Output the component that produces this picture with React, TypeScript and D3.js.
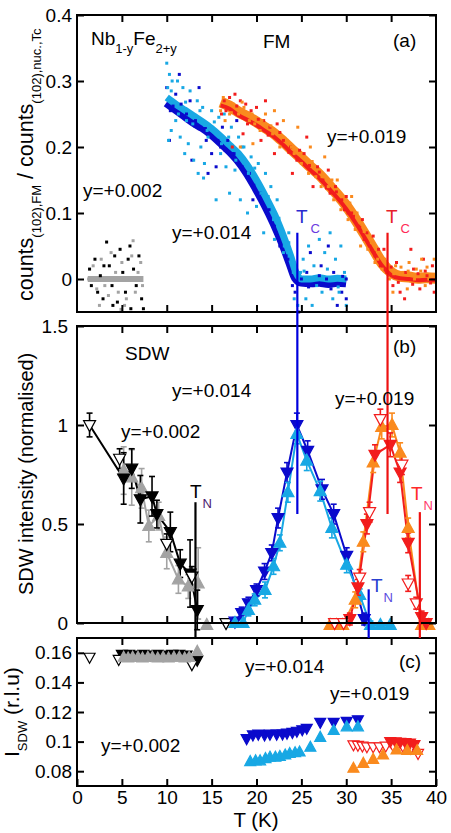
import { useEffect, useRef } from "react"
import * as d3 from "d3"

type Pt = [number, number]
type EPt = [number, number, number]

const FONT = "'Liberation Sans', Arial, Helvetica, sans-serif"

const C_DARK = "#0a0acc"
const C_LIGHT = "#18a8e4"
const C_RED = "#f21d1d"
const C_ORANGE = "#fa8a1e"
const C_GRAY = "#a3a3a3"

// ---- (a) FM: counts(102),FM / counts(102),nuc.,Tc ----
const band002: Pt[] = [[1.2, 0.0], [3, 0.0], [5, 0.0], [7.4, 0.0]]
const scatterBlack002: Pt[] = [
  [1.4, 0.015], [1.6, -0.01], [2.0, 0.03], [2.3, -0.02], [2.6, 0.005], [2.9, -0.03], [3.3, 0.056], [3.6, 0.02],
  [3.9, -0.01], [4.2, 0.035], [4.5, -0.035], [4.8, 0.045], [5.1, 0.01], [5.4, -0.02], [5.7, 0.03], [6.0, -0.045],
  [6.3, 0.015], [6.6, -0.01], [6.9, 0.035], [7.2, -0.03], [7.4, -0.045], [4.0, -0.04], [3.0, 0.02], [5.9, 0.05],
]
const scatterGray002: Pt[] = [
  [1.3, 0.0], [1.8, 0.02], [2.2, -0.015], [2.7, 0.03], [3.1, -0.01], [3.5, -0.025], [3.8, 0.04], [4.3, 0.01],
  [4.6, -0.02], [5.0, 0.025], [5.3, -0.04], [5.6, 0.0], [6.1, 0.035], [6.25, 0.058], [6.5, -0.02], [6.8, 0.01],
  [7.1, 0.025], [7.3, -0.01], [2.5, -0.04], [4.9, -0.046], [5.5, -0.03],
]
const bandLight014: Pt[] = [
  [10, 0.275], [11, 0.265], [12, 0.256], [13, 0.247], [14, 0.238], [15, 0.228], [16, 0.216], [17, 0.203],
  [18, 0.19], [19, 0.172], [20, 0.15], [21, 0.125], [22, 0.098], [23, 0.065], [23.8, 0.035], [24.4, 0.01],
  [25, 0.0], [26, 0.0], [27, 0.002], [28, 0.0], [29, 0.001], [30, 0.0],
]
const bandDark014: Pt[] = [
  [10, 0.268], [11, 0.258], [12, 0.248], [13, 0.238], [14, 0.23], [15, 0.22], [16, 0.208], [17, 0.195],
  [18, 0.18], [19, 0.161], [20, 0.138], [21, 0.113], [22, 0.085], [23, 0.053], [23.8, 0.024], [24.4, 0.002],
  [25, -0.004], [26, -0.005], [27, -0.004], [28, -0.006], [29, -0.004], [30, -0.005],
]
const scatterLight014: Pt[] = [
  [10.0, 0.327], [10.3, 0.31], [10.1, 0.29], [10.6, 0.30], [11.2, 0.30], [10.2, 0.21], [10.5, 0.225], [11.0, 0.24],
  [11.5, 0.215], [12.0, 0.19], [12.4, 0.205], [13.0, 0.18], [13.5, 0.16], [14.2, 0.175], [14.1, 0.153], [15.5, 0.12],
  [13.8, 0.2], [11.8, 0.29], [12.6, 0.285], [13.4, 0.27], [14.0, 0.26], [15.0, 0.255], [15.8, 0.245], [16.4, 0.25],
  [17.2, 0.23], [18.0, 0.215], [18.6, 0.2], [19.4, 0.185], [20.2, 0.175], [21.0, 0.16], [21.6, 0.14], [22.3, 0.12],
  [17.0, 0.13], [18.2, 0.12], [19.0, 0.1], [20.0, 0.11], [20.8, 0.07], [22.0, 0.06], [23.0, 0.04], [23.6, 0.07],
  [16.6, 0.17], [17.6, 0.165], [24.2, -0.03], [24.6, -0.04], [25.2, 0.03], [25.8, 0.05], [26.4, 0.02], [27.0, 0.06],
  [27.6, 0.04], [28.2, 0.07], [28.8, 0.03], [29.4, 0.05], [29.8, 0.01], [25.5, -0.03], [26.2, -0.04], [27.3, -0.02],
  [28.5, -0.03], [29.2, -0.02], [30.0, -0.04], [24.9, 0.01], [14.6, 0.215], [16.0, 0.19], [12.2, 0.24],
  [10.5, 0.285], [11.3, 0.25], [12.1, 0.268], [12.9, 0.235], [13.7, 0.255], [14.5, 0.225], [15.3, 0.238],
  [16.1, 0.205], [16.9, 0.215], [17.7, 0.18], [18.4, 0.2], [19.1, 0.16], [19.8, 0.168], [20.5, 0.13],
  [21.3, 0.125], [21.9, 0.09], [22.5, 0.092], [23.1, 0.05], [23.6, 0.055], [24.1, 0.01], [25.3, 0.012],
  [26.7, -0.01], [27.9, 0.015], [29.1, -0.012],
]
const scatterDark014: Pt[] = [
  [10.0, 0.29], [10.4, 0.255], [11.0, 0.28], [11.6, 0.265], [12.2, 0.25], [12.6, 0.27], [13.2, 0.24], [13.8, 0.23],
  [14.4, 0.21], [15.0, 0.19], [15.5, 0.17], [12.8, 0.18], [14.6, 0.16], [16.0, 0.2], [16.8, 0.21], [17.5, 0.19],
  [18.4, 0.17], [19.2, 0.16], [20.4, 0.13], [21.2, 0.1], [22.0, 0.08], [22.6, 0.05], [23.3, 0.035], [19.6, 0.12],
  [16.2, 0.23], [17.8, 0.24], [13.6, 0.29], [11.4, 0.31], [24.3, -0.02], [24.7, -0.05], [25.0, 0.0], [25.6, 0.01],
  [26.4, -0.01], [27.2, 0.02], [27.8, 0.0], [28.6, 0.01], [29.5, -0.02], [30.0, 0.0], [26.0, 0.04], [28.0, 0.05],
  [29.0, -0.04], [30.0, -0.03], [10.3, 0.21],
  [10.7, 0.262], [11.9, 0.245], [13.1, 0.232], [14.3, 0.228], [15.7, 0.21], [16.5, 0.195], [17.3, 0.19],
  [18.1, 0.172], [18.9, 0.155], [19.7, 0.142], [20.6, 0.115], [21.4, 0.105], [22.2, 0.07], [23.5, 0.03],
  [24.0, -0.01], [25.8, -0.012], [27.0, 0.005], [28.3, -0.015], [29.6, 0.004],
]
const bandOrange019: Pt[] = [
  [16, 0.268], [17, 0.262], [18, 0.253], [19, 0.246], [20, 0.238], [21, 0.229], [22, 0.22], [23, 0.208],
  [24, 0.195], [25, 0.183], [26, 0.17], [27, 0.158], [28, 0.143], [29, 0.128], [30, 0.111], [31, 0.091],
  [32, 0.069], [33, 0.046], [34, 0.024], [35, 0.01], [36, 0.004], [37, 0.003], [38, 0.001], [39, 0.002], [40, 0.001],
]
const bandRed019: Pt[] = [
  [16, 0.263], [17, 0.258], [18, 0.248], [19, 0.241], [20, 0.233], [21, 0.224], [22, 0.215], [23, 0.203],
  [24, 0.19], [25, 0.178], [26, 0.165], [27, 0.153], [28, 0.138], [29, 0.123], [30, 0.106], [31, 0.086],
  [32, 0.064], [33, 0.041], [34, 0.02], [35, 0.006], [36, 0.001], [37, 0.0], [38, -0.002], [39, -0.001], [40, -0.002],
]
const scatterRed019: Pt[] = [
  [16.1, 0.25], [16.4, 0.27], [17.0, 0.275], [17.6, 0.28], [18.2, 0.27], [18.8, 0.265], [19.4, 0.255], [20.0, 0.26],
  [20.8, 0.24], [21.5, 0.23], [22.3, 0.235], [23.0, 0.21], [23.8, 0.2], [24.5, 0.18], [25.3, 0.19], [26.0, 0.165],
  [26.8, 0.17], [27.4, 0.15], [28.2, 0.13], [28.8, 0.14], [29.5, 0.12], [30.2, 0.1], [30.8, 0.095], [31.4, 0.08],
  [32.0, 0.06], [32.6, 0.05], [33.2, 0.035], [33.8, 0.02], [34.5, 0.01], [35.2, -0.01], [36.0, -0.02], [36.8, 0.0],
  [37.5, 0.015], [38.2, -0.015], [39.0, 0.005], [39.6, 0.02], [17.3, 0.2], [18.5, 0.22], [20.5, 0.21], [22.0, 0.19],
  [24.0, 0.16], [26.3, 0.14], [21.0, 0.27], [25.6, 0.215], [28.0, 0.165], [30.0, 0.125], [31.8, 0.09], [33.0, 0.065],
  [34.2, 0.045], [35.6, 0.025], [36.5, -0.03], [38.6, 0.03], [39.8, -0.02], [37.2, 0.045],
  [16.6, 0.255], [17.8, 0.262], [19.0, 0.235], [20.2, 0.242], [21.3, 0.218], [22.6, 0.222], [23.6, 0.192],
  [24.8, 0.195], [25.9, 0.172], [27.0, 0.162], [27.8, 0.138], [28.9, 0.132], [29.8, 0.105], [30.6, 0.1],
  [31.5, 0.078], [32.3, 0.07], [33.1, 0.04], [33.6, 0.045], [34.4, 0.015], [35.0, 0.018], [35.8, -0.005],
  [36.6, 0.01], [37.4, -0.008], [38.0, 0.008], [38.8, 0.012], [39.4, -0.006],
]
const scatterOrange019: Pt[] = [
  [16.0, 0.255], [16.5, 0.24], [17.0, 0.25], [17.4, 0.265], [18.0, 0.25], [18.6, 0.26], [19.2, 0.24], [19.8, 0.235],
  [20.4, 0.225], [21.0, 0.25], [21.8, 0.22], [22.6, 0.2], [23.4, 0.21], [24.2, 0.19], [25.0, 0.175], [25.8, 0.16],
  [26.6, 0.155], [27.2, 0.14], [28.0, 0.14], [28.6, 0.12], [29.4, 0.105], [30.2, 0.09], [31.0, 0.075], [31.6, 0.05],
  [32.4, 0.045], [33.2, 0.025], [34.0, 0.015], [34.8, 0.0], [35.5, 0.02], [36.3, 0.01], [37.0, 0.025], [37.8, 0.015],
  [38.4, 0.03], [39.2, 0.0], [39.8, 0.03], [18.2, 0.2], [19.6, 0.205], [22.0, 0.255], [23.0, 0.24], [24.6, 0.23],
  [26.0, 0.2], [27.6, 0.185], [29.0, 0.15], [30.6, 0.125], [35.2, -0.02], [36.8, -0.015], [38.8, -0.01],
  [16.3, 0.275], [17.2, 0.252], [18.4, 0.268], [19.5, 0.25], [20.6, 0.24], [21.6, 0.232], [22.9, 0.215],
  [23.9, 0.2], [25.1, 0.185], [26.2, 0.178], [27.3, 0.155], [28.4, 0.15], [29.5, 0.125], [30.4, 0.115],
  [31.2, 0.1], [32.0, 0.072], [32.8, 0.055], [33.5, 0.03], [34.3, 0.03], [35.3, 0.008], [36.1, 0.018],
  [36.9, 0.012], [37.6, 0.0], [38.3, 0.012], [39.0, 0.018], [39.6, 0.005],
]

// ---- (b) SDW intensity (normalised): [T, I, error] ----
const sdwOpen002: EPt[] = [[1.4, 1.0, 0.06], [4.75, 0.83, 0.05], [10.0, 0.4, 0.05], [12.8, 0.235, 0.05], [16.6, 0.0, 0]]
const sdwBlack002: EPt[] = [
  [5.2, 0.73, 0.13], [6.1, 0.78, 0.1], [7.06, 0.625, 0.12], [8.36, 0.64, 0.1], [8.9, 0.55, 0.07],
  [10.4, 0.46, 0.1], [11.5, 0.3, 0.07], [12.6, 0.25, 0.17], [13.4, 0.066, 0.1],
]
const sdwGray002: EPt[] = [
  [5.2, 0.77, 0.12], [6.1, 0.735, 0.14], [7.2, 0.68, 0.1], [8.0, 0.49, 0.08], [9.1, 0.54, 0.07],
  [10.0, 0.354, 0.08], [11.3, 0.22, 0.07], [12.4, 0.184, 0.06], [13.5, 0.2, 0.18], [14.45, -0.01, 0],
]
const sdwDark014: EPt[] = [
  [17.6, 0.007, 0.02], [18.35, 0.05, 0.03], [19.1, 0.1, 0.03], [20.0, 0.167, 0.03], [20.9, 0.26, 0.04],
  [21.7, 0.354, 0.04], [22.4, 0.53, 0.05], [23.4, 0.76, 0.05], [24.5, 1.0, 0.06], [25.7, 0.87, 0.05],
  [27.3, 0.675, 0.05], [28.6, 0.55, 0.05], [30.05, 0.34, 0.04], [32.0, 0.02, 0.03],
]
const sdwLight014: EPt[] = [
  [17.6, 0.0, 0.02], [18.5, 0.0, 0.02], [19.1, 0.066, 0.03], [19.8, 0.117, 0.03], [20.95, 0.167, 0.04],
  [21.9, 0.286, 0.04], [22.6, 0.405, 0.04], [23.5, 0.66, 0.05], [24.5, 0.955, 0.05], [25.6, 0.82, 0.05],
  [27.1, 0.666, 0.05], [28.4, 0.48, 0.05], [30.05, 0.294, 0.04], [31.5, 0.142, 0.03], [32.7, -0.01, 0.02],
  [33.8, -0.01, 0], [34.9, -0.01, 0],
]
const sdwOrange019: EPt[] = [
  [28.2, -0.01, 0], [28.9, -0.01, 0], [29.6, -0.01, 0], [31.0, 0.117, 0.04], [31.9, 0.41, 0.05],
  [33.0, 0.81, 0.05], [33.95, 0.99, 0.06], [35.1, 1.0, 0.06], [36.0, 0.86, 0.05], [36.9, 0.48, 0.05],
  [38.4, -0.01, 0.02], [39.2, -0.01, 0],
]
const sdwRed019: EPt[] = [
  [30.4, 0.02, 0.03], [31.3, 0.18, 0.04], [32.3, 0.5, 0.05], [33.2, 0.85, 0.05], [34.9, 0.9, 0.06],
  [36.0, 0.76, 0.05], [36.9, 0.405, 0.05], [38.4, 0.03, 0.03], [38.9, 0.0, 0],
]
const sdwOpen019: EPt[] = [
  [28.7, 0.0, 0], [29.7, 0.0, 0], [31.5, 0.23, 0.04], [32.6, 0.56, 0.05], [33.8, 1.03, 0.05],
  [36.2, 0.8, 0.05], [36.9, 0.2, 0.04], [37.8, 0.1, 0.03],
]

// ---- (c) incommensurability l_SDW (r.l.u) ----
const lOpen002: Pt[] = [[1.4, 0.157], [4.65, 0.1555], [12.8, 0.152]]
const lBlack002: Pt[] = [
  [5.0, 0.159], [5.8, 0.159], [6.6, 0.1585], [7.4, 0.159], [8.2, 0.1585], [9.0, 0.159], [9.8, 0.1585],
  [10.6, 0.159], [11.4, 0.159], [12.2, 0.1585], [13.4, 0.155],
]
const lGray002: Pt[] = [
  [5.2, 0.157], [5.7, 0.1565], [6.2, 0.157], [6.8, 0.157], [7.3, 0.1565], [7.9, 0.157], [8.4, 0.157],
  [9.0, 0.1565], [9.6, 0.157], [10.2, 0.1565], [10.8, 0.157], [11.4, 0.157], [12.0, 0.1565], [12.5, 0.157],
  [13.4, 0.161],
]
const lDark014: Pt[] = [
  [18.9, 0.102], [19.6, 0.1045], [20.2, 0.105], [20.9, 0.1045], [21.5, 0.105], [22.25, 0.105], [22.9, 0.1052],
  [23.4, 0.1057], [24.0, 0.1062], [24.5, 0.107], [25.1, 0.108], [25.6, 0.109], [27.1, 0.113], [28.6, 0.113],
  [30.05, 0.1136], [31.3, 0.1147],
]
const lLight014: Pt[] = [
  [19.3, 0.0865], [19.9, 0.087], [20.4, 0.087], [21.0, 0.0885], [21.5, 0.0895], [22.1, 0.0895], [22.6, 0.09],
  [23.2, 0.091], [23.7, 0.092], [24.3, 0.0925], [24.8, 0.093], [26.0, 0.0962], [27.1, 0.1029], [28.6, 0.1075],
  [30.05, 0.11], [31.3, 0.11],
]
const lOpen019: Pt[] = [
  [30.8, 0.0978], [31.3, 0.0975], [31.8, 0.097], [32.3, 0.0965], [33.0, 0.0965], [33.7, 0.0965], [34.4, 0.097],
  [35.2, 0.0975], [36.3, 0.097], [37.2, 0.0955], [38.0, 0.092],
]
const lRed019: Pt[] = [[34.9, 0.1], [35.5, 0.0998], [36.0, 0.0995], [36.6, 0.0993], [37.1, 0.099], [37.6, 0.098]]
const lOrange019: Pt[] = [
  [30.8, 0.082], [31.9, 0.0853], [33.0, 0.088], [34.1, 0.091], [35.6, 0.0944], [36.8, 0.094], [37.9, 0.094],
]

const xTicks = [0, 5, 10, 15, 20, 25, 30, 35, 40]
const yTicksA = [0, 0.1, 0.2, 0.3, 0.4]
const yTicksB = [0, 0.5, 1, 1.5]
const yTicksC = [0.08, 0.1, 0.12, 0.14, 0.16]

// transition temperatures marked by vertical lines
const tcBlue = 24.55
const tcRed = 34.6
const tnBlack = 13.2
const tnBlue = 32.5
const tnRed = 38.2

type Part = { t: string; sub?: boolean; fill?: string; dx?: number }
type Sel = d3.Selection<SVGGElement, unknown, null, undefined>

function addText(
  g: Sel, x: number, y: number, parts: Part[], size: number,
  opts: { fill?: string; sub?: number; subDy?: number; rotate?: boolean; anchor?: string } = {}
) {
  const t = g.append("text")
    .attr("font-family", FONT)
    .attr("font-size", size)
    .attr("fill", opts.fill ?? "#000")
    .attr("text-anchor", opts.anchor ?? "start")
    .style("white-space", "pre")
  if (opts.rotate) t.attr("transform", `translate(${x},${y}) rotate(-90)`)
  else t.attr("x", x).attr("y", y)
  const subSize = opts.sub ?? size * 0.68
  const dy = opts.subDy ?? size * 0.35
  let down = false
  parts.forEach(p => {
    const s = t.append("tspan").text(p.t)
    if (p.sub) {
      s.attr("font-size", subSize)
      if (!down) { s.attr("dy", dy); down = true }
    } else if (down) {
      s.attr("dy", -dy); down = false
    }
    if (p.dx) s.attr("dx", p.dx)
    if (p.fill) s.attr("fill", p.fill)
  })
}

function tri(w: number, h: number, up: boolean) {
  return up
    ? `M0,${-h * 0.6}L${w / 2},${h * 0.4}L${-w / 2},${h * 0.4}Z`
    : `M0,${h * 0.6}L${w / 2},${-h * 0.4}L${-w / 2},${-h * 0.4}Z`
}

export default function App() {
  const svgRef = useRef<SVGSVGElement>(null)

  useEffect(() => {
    if (!svgRef.current) return
    const svg = d3.select(svgRef.current)
    svg.selectAll("*").remove()
    const root = svg.append("g") as unknown as Sel

    const left = 77, right = 436
    const pa = { top: 15, bottom: 312 }
    const pb = { top: 326, bottom: 623 }
    const pc = { top: 638, bottom: 786 }

    const x = d3.scaleLinear().domain([0, 40]).range([left, right])
    const ya = d3.scaleLinear().domain([-0.05, 0.4]).range([pa.bottom, pa.top])
    const yb = d3.scaleLinear().domain([0, 1.5]).range([pb.bottom, pb.top])
    const yc = d3.scaleLinear().domain([0.07, 0.17]).range([pc.bottom, pc.top])

    const frame = (
      y: d3.ScaleLinear<number, number>, p: { top: number; bottom: number },
      yt: number[], pad: number, xLabels: boolean
    ) => {
      const g = root.append("g")
      const style = (a: Sel) => {
        a.select(".domain").remove()
        a.selectAll("line").attr("stroke", "#000").attr("stroke-width", 2)
        a.selectAll("text").attr("font-family", FONT).attr("font-size", 19).attr("fill", "#000")
      }
      g.append("g").attr("transform", `translate(${left},0)`)
        .call(d3.axisLeft(y).tickValues(yt).tickSize(-7).tickPadding(pad).tickFormat(d => String(d)))
        .call(style)
      g.append("g").attr("transform", `translate(${right},0)`)
        .call(d3.axisRight(y).tickValues(yt).tickSize(-7).tickFormat(() => ""))
        .call(style)
      g.append("g").attr("transform", `translate(0,${p.top})`)
        .call(d3.axisTop(x).tickValues(xTicks.slice(1, -1)).tickSize(-7).tickFormat(() => ""))
        .call(style)
      g.append("g").attr("transform", `translate(0,${p.bottom})`)
        .call(d3.axisBottom(x).tickValues(xLabels ? xTicks : xTicks.slice(1, -1)).tickSize(-7).tickPadding(5)
          .tickFormat(d => (xLabels ? String(d) : "")))
        .call(style)
      g.append("rect")
        .attr("x", left).attr("y", p.top)
        .attr("width", right - left).attr("height", p.bottom - p.top)
        .attr("fill", "none").attr("stroke", "#000").attr("stroke-width", 2)
    }

    // ---------- panel (a) ----------
    const ga = root.append("g")
    const lineA = d3.line<Pt>().x(d => x(d[0])).y(d => ya(d[1])).curve(d3.curveMonotoneX)
    const band = (data: Pt[], color: string, w: number) =>
      ga.append("path").datum(data).attr("d", lineA).attr("fill", "none")
        .attr("stroke", color).attr("stroke-width", w).attr("stroke-linejoin", "round")
    const dots = (data: Pt[], color: string) =>
      ga.append("g").selectAll("rect").data(data).join("rect")
        .attr("x", d => x(d[0]) - 1.5).attr("y", d => ya(d[1]) - 1.5)
        .attr("width", 3).attr("height", 3).attr("fill", color)

    band(band002, C_GRAY, 6)
    dots(scatterBlack002, "#000")
    dots(scatterGray002, C_GRAY)
    band(bandDark014, C_DARK, 10)
    band(bandLight014, C_LIGHT, 7)
    dots(scatterDark014, C_DARK)
    dots(scatterLight014, C_LIGHT)
    band(bandOrange019, C_ORANGE, 11)
    band(bandRed019, C_RED, 4)
    dots(scatterRed019, C_RED)
    dots(scatterOrange019, C_ORANGE)

    frame(ya, pa, yTicksA, 5, false)

    // ---------- panel (b) ----------
    const gb = root.append("g")
    const lineB = d3.line<EPt>().x(d => x(d[0])).y(d => yb(d[1]))
    const conn = (data: EPt[], color: string) =>
      gb.append("path").datum(data).attr("d", lineB).attr("fill", "none")
        .attr("stroke", color).attr("stroke-width", 2)
    const errs = (data: EPt[], color: string) => {
      const g = gb.append("g").attr("stroke", color).attr("stroke-width", 1.6)
      data.filter(d => d[2] > 0).forEach(d => {
        const cx = x(d[0])
        const y0 = yb(d[1] - d[2]), y1 = yb(d[1] + d[2])
        g.append("line").attr("x1", cx).attr("x2", cx).attr("y1", y0).attr("y2", y1)
        g.append("line").attr("x1", cx - 3).attr("x2", cx + 3).attr("y1", y0).attr("y2", y0)
        g.append("line").attr("x1", cx - 3).attr("x2", cx + 3).attr("y1", y1).attr("y2", y1)
      })
    }
    const marks = (g: Sel, data: Pt[] | EPt[], y: d3.ScaleLinear<number, number>,
      up: boolean, fill: string, stroke: string, w: number, h: number) =>
      g.append("g").selectAll("path").data(data as Pt[]).join("path")
        .attr("d", tri(w, h, up))
        .attr("transform", d => `translate(${x(d[0])},${y(d[1])})`)
        .attr("fill", fill).attr("stroke", stroke).attr("stroke-width", 1.2)

    // y = +0.002
    conn(sdwGray002.slice(0, -1), C_GRAY)
    conn([sdwOpen002[0], ...sdwBlack002], "#000")
    errs(sdwGray002, C_GRAY)
    errs(sdwBlack002, "#000")
    errs(sdwOpen002, "#000")
    marks(gb, sdwGray002, yb, true, C_GRAY, C_GRAY, 12, 11)
    marks(gb, sdwBlack002, yb, false, "#000", "#000", 12, 11)
    marks(gb, sdwOpen002, yb, false, "#fff", "#000", 12, 11)
    // y = +0.014
    conn(sdwDark014, C_DARK)
    conn(sdwLight014, C_LIGHT)
    errs(sdwDark014, C_DARK)
    errs(sdwLight014, C_LIGHT)
    marks(gb, sdwDark014, yb, false, C_DARK, C_DARK, 12, 11)
    marks(gb, sdwLight014, yb, true, C_LIGHT, C_LIGHT, 12, 11)
    // y = +0.019
    conn(sdwOrange019, C_ORANGE)
    conn(sdwRed019, C_RED)
    errs(sdwOrange019, C_ORANGE)
    errs(sdwRed019, C_RED)
    errs(sdwOpen019, C_RED)
    marks(gb, sdwOrange019, yb, true, C_ORANGE, C_ORANGE, 12, 11)
    marks(gb, sdwRed019, yb, false, C_RED, C_RED, 12, 11)
    marks(gb, sdwOpen019, yb, false, "#fff", C_RED, 12, 11)

    frame(yb, pb, yTicksB, 9, false)

    // ---------- panel (c) ----------
    const gc = root.append("g")
    marks(gc, lBlack002, yc, false, "#000", "#000", 11, 10)
    marks(gc, lOpen002, yc, false, "#fff", "#000", 11, 10)
    marks(gc, lGray002, yc, true, C_GRAY, C_GRAY, 11, 10)
    marks(gc, lDark014, yc, false, C_DARK, C_DARK, 11, 10)
    marks(gc, lLight014, yc, true, C_LIGHT, C_LIGHT, 11, 10)
    marks(gc, lOpen019, yc, false, "#fff", C_RED, 11, 10)
    marks(gc, lRed019, yc, false, C_RED, C_RED, 11, 10)
    marks(gc, lOrange019, yc, true, C_ORANGE, C_ORANGE, 11, 10)

    frame(yc, pc, yTicksC, 5, true)

    // ---------- transition markers ----------
    const vline = (t: number, y0: number, y1: number, color: string) =>
      root.append("line").attr("x1", x(t)).attr("x2", x(t)).attr("y1", y0).attr("y2", y1)
        .attr("stroke", color).attr("stroke-width", 2.2)
    vline(tcBlue, ya(0.07), yb(0.55), "#0000dd")
    vline(tcRed, ya(0.07), yb(0.55), "#ee1111")
    vline(tnBlack, yb(0.61), pc.top, "#000")
    vline(tnBlue, yb(0.17), pc.top, "#0000dd")
    vline(tnRed, yb(0.56), pc.top, "#ee1111")

    // ---------- labels ----------
    addText(root, 91, 45, [{ t: "Nb" }, { t: "1-y", sub: true }, { t: "Fe" }, { t: "2+y", sub: true }], 19, { sub: 13, subDy: 8 })
    addText(root, 263, 48, [{ t: "FM" }], 19)
    addText(root, 393, 47, [{ t: "(a)" }], 19)
    addText(root, 327, 143, [{ t: "y=+0.019" }], 19)
    addText(root, 83, 197, [{ t: "y=+0.002" }], 19)
    addText(root, 172, 239, [{ t: "y=+0.014" }], 19)
    addText(root, 296, 223, [{ t: "T", fill: "#2a2ad0" }, { t: "C", sub: true, dx: 3, fill: "#6a3ae0" }], 19, { sub: 13, subDy: 10 })
    addText(root, 386, 223, [{ t: "T", fill: "#e8202a" }, { t: "C", sub: true, dx: 3, fill: "#ff2a55" }], 19, { sub: 13, subDy: 10 })

    addText(root, 125, 360, [{ t: "SDW" }], 19)
    addText(root, 393, 353, [{ t: "(b)" }], 19)
    addText(root, 121, 438, [{ t: "y=+0.002" }], 19)
    addText(root, 172, 397, [{ t: "y=+0.014" }], 19)
    addText(root, 335, 405, [{ t: "y=+0.019" }], 19)
    addText(root, 190, 498, [{ t: "T" }, { t: "N", sub: true, dx: 1, fill: "#4a2070" }], 19, { sub: 13, subDy: 10 })
    addText(root, 371, 592, [{ t: "T", fill: "#2a40d0" }, { t: "N", sub: true, dx: 1, fill: "#5a4ae0" }], 19, { sub: 13, subDy: 10 })
    addText(root, 411, 500, [{ t: "T", fill: "#ff2a2a" }, { t: "N", sub: true, dx: 1, fill: "#ff3a6a" }], 19, { sub: 13, subDy: 10 })

    addText(root, 399, 668, [{ t: "(c)" }], 19)
    addText(root, 245, 673, [{ t: "y=+0.014" }], 19)
    addText(root, 330, 700, [{ t: "y=+0.019" }], 19)
    addText(root, 101, 752, [{ t: "y=+0.002" }], 19)

    addText(root, 256, 827, [{ t: "T (K)" }], 20.5, { anchor: "middle" })

    // axis titles
    addText(root, 33, 301, [
      { t: "counts" }, { t: "(102),FM", sub: true }, { t: " / counts" }, { t: "(102),nuc.,Tc", sub: true },
    ], 21.5, { sub: 13, subDy: 8, rotate: true })
    addText(root, 33, 595, [{ t: "SDW intensity (normalised)" }], 20, { rotate: true })
    addText(root, 19, 757, [{ t: "I" }, { t: "SDW", sub: true }, { t: " (r.l.u)" }], 21, { sub: 13, subDy: 8, rotate: true })
  }, [])

  return (
    <div style={{ position: "absolute", left: 0, top: 0 }}>
      <svg ref={svgRef} width={451} height={833} style={{ display: "block", background: "#fff" }} />
    </div>
  )
}
